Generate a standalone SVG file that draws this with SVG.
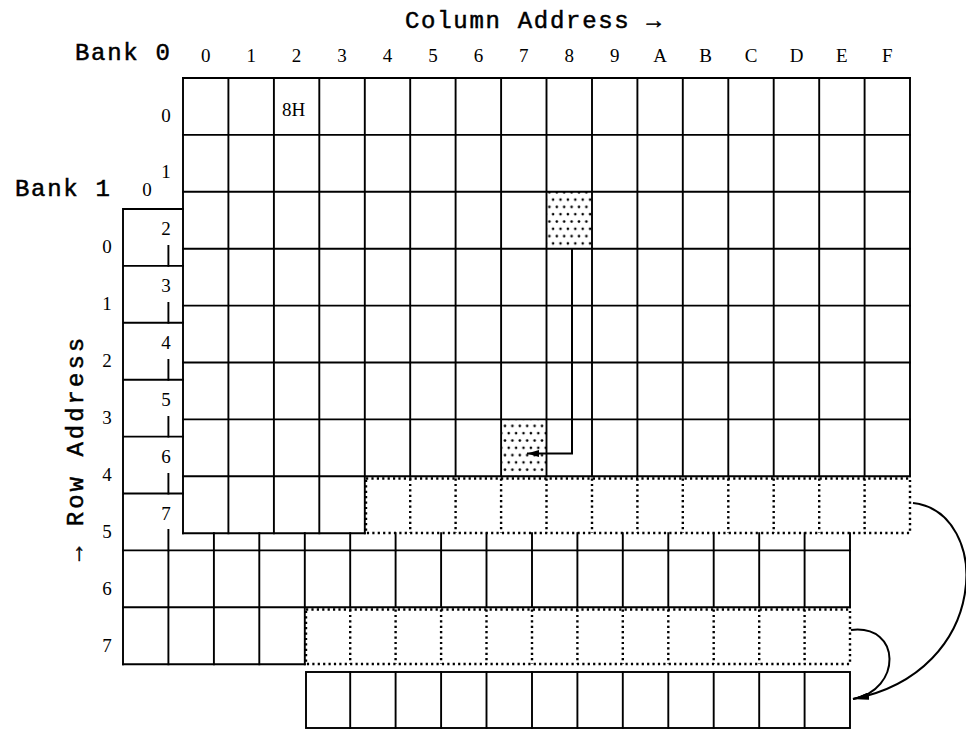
<svg xmlns="http://www.w3.org/2000/svg" width="966" height="736" viewBox="0 0 966 736">
<style>
.g{stroke:#000;stroke-width:1.9;fill:none;stroke-linecap:square}
.d{stroke:#000;stroke-width:2.4;fill:none;stroke-dasharray:2.2 3.2}
.mono{font-family:"Liberation Mono","Courier New",monospace;font-size:24px;letter-spacing:1.7px;fill:#000;stroke:#000;stroke-width:0.5}
.num{font-family:"Liberation Serif","Times New Roman",serif;font-size:19px;fill:#000;text-anchor:middle}
.c{stroke:#000;stroke-width:2;fill:none}
</style>
<defs>
<pattern id="dots" width="7.4" height="14.6" patternUnits="userSpaceOnUse">
<circle cx="1.8" cy="2.5" r="1.3" fill="#000"/>
<circle cx="5.5" cy="9.8" r="1.3" fill="#000"/>
</pattern>
<marker id="ah" markerWidth="16" markerHeight="7" refX="16" refY="3.5" orient="auto" markerUnits="userSpaceOnUse">
<path d="M0,0 L16,3.5 L0,7 z" fill="#000"/>
</marker>
<marker id="ah2" markerWidth="12" markerHeight="7" refX="12" refY="3.5" orient="auto" markerUnits="userSpaceOnUse">
<path d="M0,0 L12,3.5 L0,7 z" fill="#000"/>
</marker>
</defs>
<rect width="966" height="736" fill="#fff"/>

<g id="titles">
<text class="mono" x="405" y="28">Column Address →</text>
<text class="mono" x="75" y="60">Bank 0</text>
<text class="mono" x="15" y="196">Bank 1</text>
<text class="mono" transform="translate(83,561) rotate(-90)" style="letter-spacing:3px">→ Row Address</text>
</g>

<g id="bank1">
<path class="g" d="M123,209 H183 M123,265.9 H183 M123,322.8 H183 M123,379.7 H183 M123,436.6 H183 M123,493.5 H183 M123,209 V664.2"/>
<path class="g" d="M168.4,246 V265.9 M168.4,303 V322.8 M168.4,360 V379.7 M168.4,417 V436.6 M168.4,474 V493.5 M168.4,530 V550.4"/>
<path class="g" d="M213.9,533.2 V550.4 M259.3,533.2 V550.4 M304.8,533.2 V550.4 M350.2,533.2 V550.4 M395.6,533.2 V550.4 M441.1,533.2 V550.4 M486.5,533.2 V550.4 M532,533.2 V550.4 M577.4,533.2 V550.4 M622.8,533.2 V550.4 M668.3,533.2 V550.4 M713.7,533.2 V550.4 M759.2,533.2 V550.4 M804.6,533.2 V550.4 M850,533.2 V607.3"/>
<path class="g" d="M123,550.4 H850 M123,607.3 H850 M168.4,550.4 V664.2 M213.9,550.4 V664.2 M259.3,550.4 V664.2 M304.8,550.4 V664.2 M350.2,550.4 V607.3 M395.6,550.4 V607.3 M441.1,550.4 V607.3 M486.5,550.4 V607.3 M532,550.4 V607.3 M577.4,550.4 V607.3 M622.8,550.4 V607.3 M668.3,550.4 V607.3 M713.7,550.4 V607.3 M759.2,550.4 V607.3 M804.6,550.4 V607.3"/>
<path class="g" d="M123,664.2 H304.8"/>
<text class="num" x="147" y="196">0</text>
<text class="num" x="107" y="253">0</text>
<text class="num" x="107" y="310">1</text>
<text class="num" x="107" y="367">2</text>
<text class="num" x="107" y="424">3</text>
<text class="num" x="107" y="481">4</text>
<text class="num" x="107" y="538">5</text>
<text class="num" x="107" y="595">6</text>
<text class="num" x="107" y="652">7</text>
</g>

<g id="bank0">
<rect x="546.5" y="191.8" width="45.5" height="56.9" fill="url(#dots)"/>
<rect x="501.1" y="419.4" width="45.4" height="56.9" fill="url(#dots)"/>
<path class="g" d="M183,78 H910 M183,134.9 H910 M183,191.8 H910 M183,248.7 H910 M183,305.6 H910 M183,362.5 H910 M183,419.4 H910 M183,476.3 H910 M183,533.2 H364.8"/>
<path class="g" d="M183,78 V533.2 M228.4,78 V533.2 M273.9,78 V533.2 M319.3,78 V533.2 M364.8,78 V533.2 M410.2,78 V476.3 M455.6,78 V476.3 M501.1,78 V476.3 M546.5,78 V476.3 M592,78 V476.3 M637.4,78 V476.3 M682.8,78 V476.3 M728.3,78 V476.3 M773.7,78 V476.3 M819.2,78 V476.3 M864.6,78 V476.3 M910,78 V476.3"/>
<text class="num" x="205.7" y="62">0</text>
<text class="num" x="251.2" y="62">1</text>
<text class="num" x="296.6" y="62">2</text>
<text class="num" x="342" y="62">3</text>
<text class="num" x="387.5" y="62">4</text>
<text class="num" x="432.9" y="62">5</text>
<text class="num" x="478.4" y="62">6</text>
<text class="num" x="523.8" y="62">7</text>
<text class="num" x="569.3" y="62">8</text>
<text class="num" x="614.7" y="62">9</text>
<text class="num" x="660.1" y="62">A</text>
<text class="num" x="705.6" y="62">B</text>
<text class="num" x="751" y="62">C</text>
<text class="num" x="796.5" y="62">D</text>
<text class="num" x="841.9" y="62">E</text>
<text class="num" x="887.3" y="62">F</text>
<text class="num" x="166" y="122">0</text>
<text class="num" x="166" y="178">1</text>
<text class="num" x="166" y="235">2</text>
<text class="num" x="166" y="292">3</text>
<text class="num" x="166" y="349">4</text>
<text class="num" x="166" y="406">5</text>
<text class="num" x="166" y="463">6</text>
<text class="num" x="166" y="520">7</text>
<text class="num" x="282" y="116" style="text-anchor:start">8H</text>
</g>

<g id="dotted-row-bank0">
<rect class="d" x="366" y="478.5" width="544" height="54.5"/>
<path class="d" d="M410.2,478.5 V533 M455.6,478.5 V533 M501.1,478.5 V533 M546.5,478.5 V533 M592,478.5 V533 M637.4,478.5 V533 M682.8,478.5 V533 M728.3,478.5 V533 M773.7,478.5 V533 M819.2,478.5 V533 M864.6,478.5 V533"/>
</g>

<g id="dotted-row-bank1">
<rect class="d" x="306" y="609.5" width="544" height="54.5"/>
<path class="d" d="M350.2,609.5 V664 M395.6,609.5 V664 M441.1,609.5 V664 M486.5,609.5 V664 M532,609.5 V664 M577.4,609.5 V664 M622.8,609.5 V664 M668.3,609.5 V664 M713.7,609.5 V664 M759.2,609.5 V664 M804.6,609.5 V664"/>
</g>

<g id="buffer-row">
<rect class="g" x="306" y="672" width="544" height="56"/>
<path class="g" d="M350.2,672 V728 M395.6,672 V728 M441.1,672 V728 M486.5,672 V728 M532,672 V728 M577.4,672 V728 M622.8,672 V728 M668.3,672 V728 M713.7,672 V728 M759.2,672 V728 M804.6,672 V728"/>
</g>

<g id="connectors">
<path class="c" d="M572,249 V453.5 H527" marker-end="url(#ah2)"/>
<path class="c" d="M913,503 C992,512 992,672 853,699" marker-end="url(#ah)"/>
<path class="c" d="M851,630 C902,624 902,690 853,699" marker-end="url(#ah)"/>
</g>
</svg>
